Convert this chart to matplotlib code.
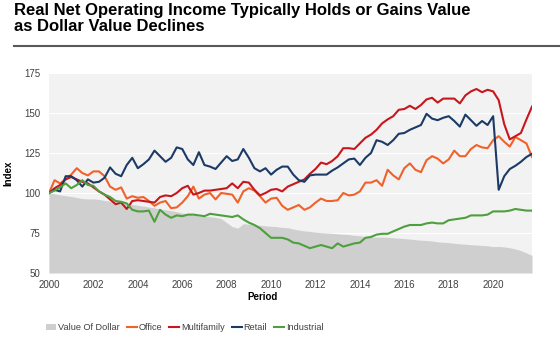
import numpy as np
import pandas as pd
import matplotlib
matplotlib.use("Agg")
import matplotlib.pyplot as plt
from matplotlib.lines import Line2D

plt.rcParams['font.family'] = ['Liberation Sans', 'DejaVu Sans']

title = "Real Net Operating Income Typically Holds or Gains Value\nas Dollar Value Declines"
periods = pd.period_range('2000Q1', '2021Q4', freq='Q')
x = np.array([p.year + (p.quarter - 1) / 4 for p in periods])

value_of_dollar = [
    100, 99.5, 98.8, 98.3,  97.8, 97.2, 96.5, 96.3,  96.3, 96, 95.3, 94.8,
    94.5, 94, 93.5, 92.8,  92.3, 91.8, 91.2, 90.7,  90, 89.5, 89, 88.3,
    87.5, 87, 86.3, 85.5,  85.4, 85.2, 84.7, 84,  81.5, 79, 78, 80.8,
    80.5, 80, 79.8, 79.5,  79.2, 79, 78.5, 78.3,  77.5, 76.8, 76.3, 76,
    75.5, 75.2, 75, 74.8,  74.5, 74.2, 74, 73.5,  73.3, 72.8, 72.5, 72.4,
    72.5, 72.3, 72, 71.8,  71.5, 71.2, 70.8, 70.5,  70.3, 70, 69.5, 69.2,
    69, 68.6, 68.2, 68,  67.7, 67.5, 67.2, 67,  66.5, 66.6, 66.3, 65.8,
    65, 64, 62.5, 61]
office = [
    100, 108, 106, 108.5,  111.5, 115.5, 112.5, 111,  113.5, 113.5, 110.5, 104,
    102, 103.5, 96.5, 98,  97, 97.5, 95, 92,  94, 95, 90.5, 91,
    94, 98, 104, 96.5,  99, 100, 96, 100,  99.5, 99, 94, 101,
    103, 101.5, 98, 94,  96.5, 97, 92, 89.5,  91, 92.5, 89.5, 91,
    94, 96.5, 95, 95,  95.5, 100, 98.5, 99,  101, 106.5, 106.5, 108,
    104.5, 114.5, 111, 108.5,  115.5, 118.5, 114.5, 113,  120.5, 123, 121.5, 118.5,
    121, 126.5, 123, 123,  127.5, 130, 128.5, 128,  133, 135.5, 132, 129,
    135, 133, 131, 122.5]
multifamily = [
    100, 103, 105, 108.5,  110, 108.5, 107, 106,  103.5, 101, 99, 96,
    93, 94, 90, 95,  95.5, 95, 94.5, 94,  97.5, 98.5, 98, 100,
    103, 104.5, 99, 100,  101.5, 101.5, 102, 102.5,  103, 106, 103, 107,
    106.5, 102, 98.5, 100,  102, 102.5, 101, 104,  105.5, 107, 108.5, 112,
    115, 119, 118, 120,  123, 128, 128, 127.5,  131, 134.5, 136.5, 139.5,
    143.5, 146, 148, 152,  152.5, 154.5, 152.5, 155,  158.5, 159.5, 156.5, 159,
    159, 159, 156, 161,  163.5, 165, 163, 164.5,  163.5, 158, 143, 133.5,
    135.5, 137.5, 146, 154]
retail = [
    100, 102, 101, 110.5,  110.5, 108, 104, 108.5,  106.5, 107, 109.5, 116,
    112, 110.5, 117.5, 122,  115.5, 118, 121, 126.5,  123, 119.5, 122, 128.5,
    127.5, 121, 117.5, 125.5,  117.5, 116.5, 115, 119,  123, 120, 121, 127.5,
    122, 115.5, 113.5, 115.5,  111.5, 114.5, 116.5, 116.5,  111.5, 108, 107, 111,
    111.5, 111.5, 111.5, 114,  116, 118.5, 121, 121.5,  117.5, 122, 125, 133,
    132, 130, 133, 137,  137.5, 139.5, 141, 142.5,  149.5, 146.5, 145.5, 147,
    148, 145, 141.5, 149,  145.5, 142, 145, 142.5,  148, 102, 110.5, 115,
    117, 119.5, 122.5, 124.5]
industrial = [
    100, 101.5, 103.5, 106,  103, 105, 108, 105,  104.5, 101, 99, 97.5,
    95, 94.5, 93.5, 89.5,  88.5, 88.5, 89, 82,  89.5, 86.5, 84.5, 86,
    85.5, 86.5, 86.5, 86,  85.5, 87, 86.5, 86,  85.5, 85, 86, 83.5,
    81.5, 80, 78, 75,  72, 72, 72, 71,  69, 68.5, 67, 65.5,
    66.5, 67.5, 66.5, 65.5,  68.5, 66.5, 67.5, 68.5,  69, 72, 72.5, 74,
    74.5, 74.5, 76, 77.5,  79, 80, 80, 80,  81, 81.5, 81, 81,
    83, 83.5, 84, 84.5,  86, 86, 86, 86.5,  88.5, 88.5, 88.5, 89,
    90, 89.5, 89, 89]

series = [("Office", office, "#F0622A"),
          ("Multifamily", multifamily, "#C8161D"),
          ("Retail", retail, "#1B3A66"),
          ("Industrial", industrial, "#4E9F3D")]

yticks = [50, 75, 100, 125, 150, 175]
xticks = list(range(2000, 2021, 2))

fig = plt.figure(figsize=(5.6, 3.4), dpi=100)
ax = fig.add_axes([49/560, 1 - 273/340, (532-49)/560, 200/340])
ax.set_facecolor("#F2F2F2")
ax.fill_between(x, 50, value_of_dollar, color="#D0CFD0", lw=0, label="Value Of Dollar", zorder=2)
for name, vals, col in series:
    ax.plot(x, vals, color=col, lw=1.5, label=name, zorder=3)

ax.set_xlim(2000, 2021.75)
ax.set_ylim(50, 175)
ax.set_yticks(yticks)
ax.set_xticks(xticks)
ax.grid(axis='y', color='white', lw=0.8, zorder=1)
ax.set_axisbelow(True)
for s in ax.spines.values():
    s.set_visible(False)
ax.tick_params(length=0, labelsize=7, labelcolor="#404040", pad=6)
ax.tick_params(axis='x', pad=5)
ax.set_ylabel("Index", fontsize=7, fontweight='bold', labelpad=8)
fig.text(262/560, 1 - 297/340, "Period", fontsize=7, fontweight='bold', ha='center', va='center')

fig.text(14/560, 1 - 3/340, title, fontsize=12, fontweight='bold', ha='left', va='top',
         linespacing=1.1, color='black')
fig.add_artist(Line2D([14/560, 1.0], [1 - 46/340, 1 - 46/340], color="#595959", lw=1.5,
                      transform=fig.transFigure))

h, l = ax.get_legend_handles_labels()
fig.legend(h, l, loc='center', bbox_to_anchor=(185/560, 1 - 328/340), ncol=5, frameon=False,
           fontsize=6.6, handlelength=1.1, handleheight=0.6, handletextpad=0.2, columnspacing=0.75,
           labelcolor="#404040")

fig.savefig("out.png", dpi=100)
